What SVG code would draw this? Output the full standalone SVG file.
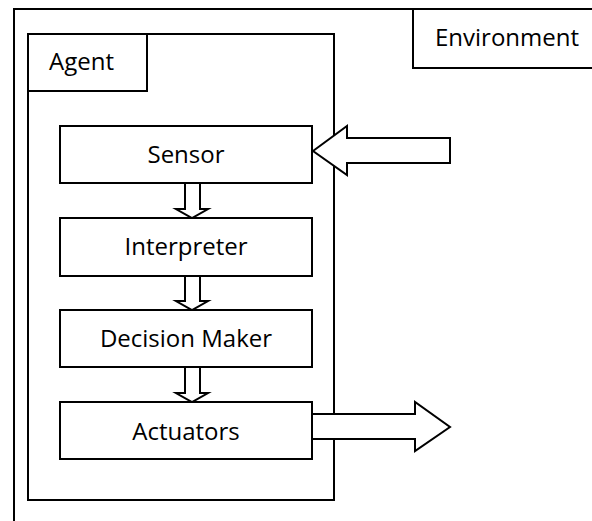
<svg xmlns="http://www.w3.org/2000/svg" width="592" height="521" viewBox="0 0 592 521">
  <style>
    .box { fill: #fff; stroke: #000; stroke-width: 2; }
    .frame { fill: none; stroke: #000; stroke-width: 2; }
    .arrow { fill: #fff; stroke: #000; stroke-width: 2; stroke-linejoin: miter; }
    .label { font-family: "Open Sans", "Liberation Sans", sans-serif; font-size: 24px; fill: #000; }
    .mid { text-anchor: middle; }
  </style>
  <rect width="592" height="521" fill="#fff"/>

  <!-- environment frame -->
  <g id="environment">
    <rect class="frame" x="14" y="9" width="600" height="530"/>
    <rect class="box" x="413" y="9" width="200" height="59"/>
    <text class="label" x="435" y="46">Environment</text>
  </g>

  <!-- agent frame -->
  <g id="agent">
    <rect class="box" x="28" y="34" width="306" height="466"/>
    <rect class="box" x="28" y="34" width="119" height="57"/>
    <text class="label" x="49" y="70">Agent</text>
  </g>

  <!-- connectors: block arrows -->
  <g id="connectors">
    <polygon class="arrow" points="313,151 347,126 347,138 450,138 450,163 347,163 347,175"/>
    <polygon class="arrow" points="185,183 200,183 200,209 208,209 192,218 176,209 185,209"/>
    <polygon class="arrow" points="185,276 200,276 200,301 208,301 192,310 176,301 185,301"/>
    <polygon class="arrow" points="185,367 200,367 200,393 208,393 192,402 176,393 185,393"/>
    <polygon class="arrow" points="312,414 415,414 415,402 450,427 415,451 415,439 312,439"/>
  </g>

  <g id="sensor">
    <rect class="box" x="60" y="126" width="252" height="57"/>
    <text class="label mid" x="186" y="163">Sensor</text>
  </g>
  <g id="interpreter">
    <rect class="box" x="60" y="218" width="252" height="58"/>
    <text class="label mid" x="186" y="255">Interpreter</text>
  </g>
  <g id="decision-maker">
    <rect class="box" x="60" y="310" width="252" height="57"/>
    <text class="label mid" x="186" y="347">Decision Maker</text>
  </g>
  <g id="actuators">
    <rect class="box" x="60" y="402" width="252" height="57"/>
    <text class="label mid" x="186" y="440">Actuators</text>
  </g>
</svg>
